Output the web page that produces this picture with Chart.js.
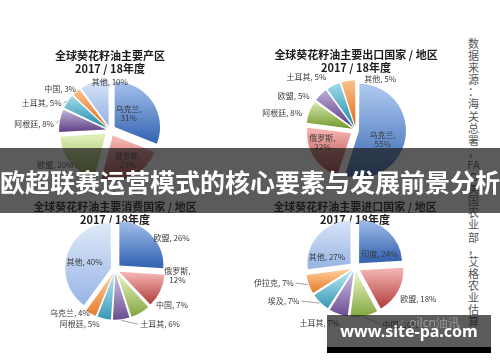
<!DOCTYPE html>
<html>
<head>
<meta charset="utf-8">
<script src="https://cdn.jsdelivr.net/npm/chart.js@4.4.0/dist/chart.umd.min.js"></script>
<style>
  html, body { margin: 0; padding: 0; background: #fff; }
  #stage { position: relative; width: 500px; height: 362px; overflow: hidden; background: #fff;
           font-family: "Noto Sans CJK SC", sans-serif; }
  #stage canvas { position: absolute; }
  #source { position: absolute; left: 467px; top: 37px; width: 13px; font-size: 11px; line-height: 12.1px;
            color: #555; text-align: center; white-space: nowrap; }
  #banner { position: absolute; left: 0; top: 148px; width: 500px; height: 65px; background: rgba(28, 28, 28, 0.72);
            color: #fff; font-size: 25px; font-weight: bold; line-height: 66px; text-align: center; white-space: nowrap; }
  #mark { position: absolute; left: 399px; top: 314px; font-size: 12px; color: rgba(205, 205, 205, 0.55);
          font-family: "Noto Sans", sans-serif; white-space: nowrap; }
  #site { position: absolute; left: 327px; top: 315px; width: 164px; height: 32px; background: rgba(28, 28, 28, 0.72);
          border-bottom: 6px solid #000; color: #fff; font-family: "Noto Sans", sans-serif; font-size: 16px;
          font-weight: bold; line-height: 32px; text-align: center; }
</style>
</head>
<body>
<div id="stage">
  <canvas id="prodPie" width="240" height="195" style="left:0;top:0"></canvas>
  <canvas id="exportPie" width="220" height="195" style="left:240px;top:0"></canvas>
  <canvas id="usePie" width="240" height="181" style="left:0;top:181px"></canvas>
  <canvas id="importPie" width="220" height="181" style="left:240px;top:181px"></canvas>
  <div id="source"></div>
  <div id="banner">欧超联赛运营模式的核心要素与发展前景分析</div>
  <div id="site">www.site-pa.com</div>
  <div id="mark">◌ oilcn油讯</div>
</div>
<script>
// shares in percent, clockwise from 12 o'clock
const prodLabels = ['乌克兰', '俄罗斯', '欧盟', '阿根廷', '土耳其', '中国', '其他'];
const prodShare = [31, 23, 20, 8, 5, 3, 10];

const exportLabels = ['乌克兰', '俄罗斯', '阿根廷', '欧盟', '土耳其', '其他'];
const exportShare = [55, 22, 8, 5, 5, 5];

const useLabels = ['欧盟', '俄罗斯', '中国', '土耳其', '阿根廷', '乌克兰', '其他'];
const useShare = [26, 12, 7, 6, 5, 4, 40];

const importLabels = ['印度', '欧盟', '中国', '土耳其', '埃及', '伊拉克', '其他'];
const importShare = [24, 18, 10, 7, 7, 7, 27];

const season = '2017 / 18年度';
const sourceLines = ['数', '据', '来', '源', '：', '海', '关', '总', '署', '，', 'FA', 'O',
                     '美', '国', '农', '业', '部', '，', '艾', '格', '农', '业', '估', '算'];

document.getElementById('source').innerHTML = sourceLines.join('<br>');

const BLUE = '#4f81bd', RED = '#c0504d', GREEN = '#9bbb59', PURPLE = '#8064a2',
      CYAN = '#4bacc6', ORANGE = '#f79646', PALE = '#a9c2ea';
// light top / dark bottom of each slice
const SHADES = {};
SHADES[BLUE] = ['#abc7ef', '#3867b3'];
SHADES[RED] = ['#f2b0ae', '#ac3431'];
SHADES[GREEN] = ['#dcedb6', '#7a9f35'];
SHADES[PURPLE] = ['#c3b4dc', '#62458a'];
SHADES[CYAN] = ['#ade0ee', '#2b92b0'];
SHADES[ORANGE] = ['#fdc997', '#e27520'];
SHADES[PALE] = ['#dfe9f9', '#9ab7e5'];

const GAP = 6; // how far each slice is pulled out, px

// chart.js moves an arc by offset/4*(1+fix), so invert that to get an even gap
const pull = (frac) => {
    const fix = 1 - Math.sin(Math.min(Math.PI, frac * 2 * Math.PI));
    return 4 * GAP / (1 + fix);
};

const shade = {
    id: 'shade',
    beforeDatasetsDraw(chart) {
        const ctx = chart.ctx;
        const base = chart.data.datasets[0].backgroundColor;
        chart.getDatasetMeta(0).data.forEach((arc, i) => {
            const mid = (arc.startAngle + arc.endAngle) / 2;
            let top = arc.y, bot = arc.y;
            for (let k = 0; k <= 24; k++) {
                const a = arc.startAngle + (arc.endAngle - arc.startAngle) * k / 24;
                const py = arc.y + Math.sin(a) * arc.outerRadius;
                top = Math.min(top, py);
                bot = Math.max(bot, py);
            }
            const shift = Math.sin(mid) * GAP;
            const pair = SHADES[base[i]];
            const g = ctx.createLinearGradient(0, top + shift, 0, bot + shift);
            g.addColorStop(0, pair[0]);
            g.addColorStop(1, pair[1]);
            arc.options.backgroundColor = g;
        });
    }
};

// place: [distance along bisector, dx, dy, align, two lines, leader]
const sliceLabels = (place) => ({
    id: 'sliceLabels',
    afterDatasetsDraw(chart) {
        const ctx = chart.ctx;
        const names = chart.data.labels;
        const vals = chart.data.datasets[0].data;
        ctx.save();
        ctx.font = '8px "Noto Sans CJK SC"';
        ctx.fillStyle = '#3a3a3a';
        ctx.strokeStyle = '#8a8a8a';
        ctx.lineWidth = 0.8;
        ctx.textBaseline = 'middle';
        chart.getDatasetMeta(0).data.forEach((arc, i) => {
            const [d, dx, dy, align, twoLines, leader] = place[i];
            const mid = (arc.startAngle + arc.endAngle) / 2;
            const ux = Math.cos(mid), uy = Math.sin(mid);
            const x = arc.x + ux * d + dx;
            const y = arc.y + uy * d + dy;
            ctx.textAlign = align;
            if (twoLines) {
                ctx.fillText(names[i] + ',', x, y - 4.5);
                ctx.fillText(vals[i] + '%', x, y + 4.5);
            } else {
                ctx.fillText(names[i] + ', ' + vals[i] + '%', x, y);
            }
            if (leader) {
                const edge = arc.outerRadius + GAP + 1;
                const sx = align === 'right' ? x + 2 : x - 2;
                ctx.beginPath();
                ctx.moveTo(sx, y);
                ctx.lineTo(arc.x + ux * edge, arc.y + uy * edge);
                ctx.stroke();
            }
        });
        ctx.restore();
    }
});

const makePie = (id, title, labels, values, colors, place, padding, radius) => {
    new Chart(document.getElementById(id), {
        type: 'pie',
        data: {
            labels: labels,
            datasets: [{
                data: values,
                backgroundColor: colors,
                borderWidth: 0,
                offset: (c) => {
                    const d = c.dataset.data;
                    const sum = d.reduce((a, b) => a + b, 0);
                    return pull(d[c.dataIndex] / sum);
                }
            }]
        },
        options: {
            responsive: false,
            animation: false,
            events: [],
            radius: radius,
            layout: { padding: padding },
            plugins: {
                legend: { display: false },
                tooltip: { enabled: false },
                title: {
                    display: true,
                    text: [title, season],
                    color: '#1c1c1c',
                    padding: { top: 0, bottom: 0 },
                    font: { family: '"Noto Sans CJK SC"', size: 11, weight: 'bold', lineHeight: 1.2 }
                }
            }
        },
        plugins: [shade, sliceLabels(place)]
    });
};

makePie('prodPie', '全球葵花籽油主要产区', prodLabels, prodShare,
    [BLUE, RED, GREEN, PURPLE, CYAN, ORANGE, PALE],
    [[25, -2, -3, 'center', true],
     [35, 2, -1, 'center', true],
     [50, 2, 3, 'right'],
     [56, -1, 4, 'right', false, true],
     [55, -3, 4, 'right', false, true],
     [53, 1, -1, 'right'],
     [46, 14, -4, 'center']],
    { top: 49, bottom: 10, left: 0, right: 20 }, 45);

makePie('exportPie', '全球葵花籽油主要出口国家 / 地区', exportLabels, exportShare,
    [BLUE, RED, GREEN, PURPLE, CYAN, ORANGE],
    [[28, -1, 5, 'center', true],
     [35, -4, -7, 'center', true],
     [57, -1, 4, 'right'],
     [57, -6, 6, 'right'],
     [61, -2, 1, 'right'],
     [49, 16, -3, 'left']],
    { top: 48, bottom: 9, left: 12, right: 0 }, 44);

makePie('usePie', '全球葵花籽油主要消费国家 / 地区', useLabels, useShare,
    [BLUE, RED, GREEN, PURPLE, CYAN, ORANGE, PALE],
    [[50, 2, 2, 'left'],
     [59, 9, -19, 'center', true],
     [51, 15, -9, 'left'],
     [57, 18, -2, 'left', false, true],
     [57, -3, -1, 'right'],
     [50, -1, -1, 'right'],
     [31, -1, 2, 'center']],
    { top: 19, bottom: 49, left: 0, right: 10 }, 44);

makePie('importPie', '全球葵花籽油主要进口国家 / 地区', importLabels, importShare,
    [BLUE, RED, GREEN, PURPLE, CYAN, ORANGE, PALE],
    [[27, 6, 6, 'center'],
     [55, -3, 5, 'left'],
     [61, 16, -3, 'left', false, true],
     [58, 4, 1, 'right'],
     [63, -11, -11, 'right', false, true],
     [63, -2, -6, 'right', false, true],
     [28, -7, 8, 'center']],
    { top: 19, bottom: 53, left: 10, right: 0 }, 43);
</script>
</body>
</html>
